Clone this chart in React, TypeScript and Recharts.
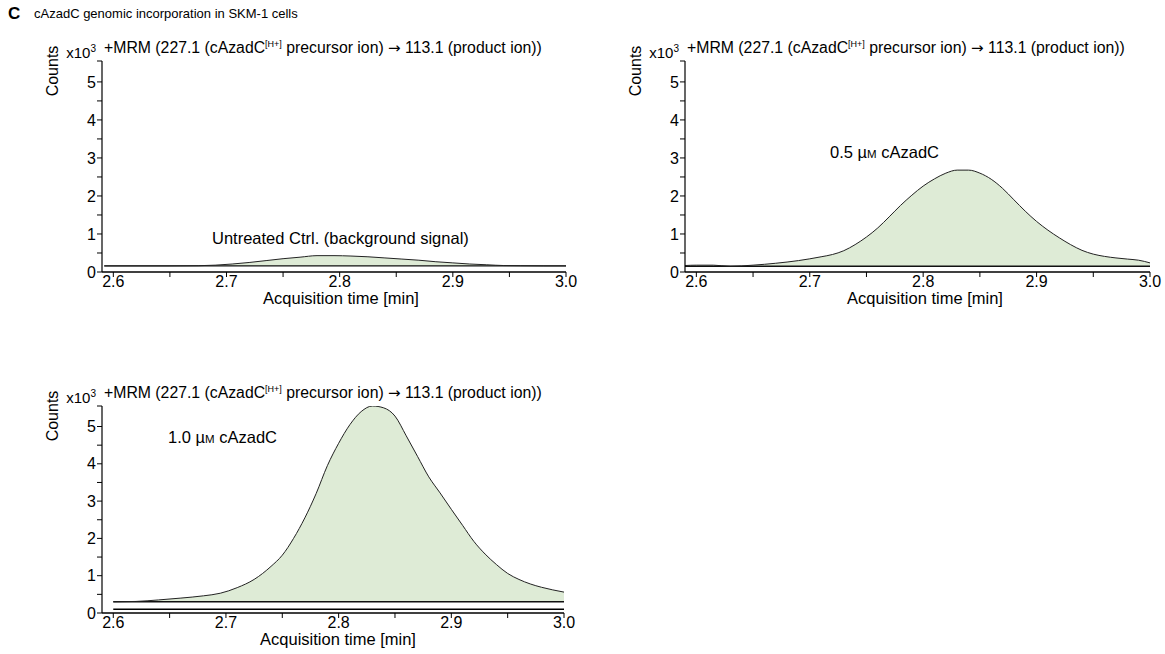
import React from 'react';
import { ComposedChart, Area, Line, XAxis, YAxis } from 'recharts';

// ---- data, counts in x10^3 ----
const ctrlTime = [2.592, 2.62, 2.65, 2.675, 2.69, 2.705, 2.72, 2.735, 2.75, 2.765, 2.78, 2.795, 2.81, 2.825, 2.84, 2.855, 2.87, 2.885, 2.9, 2.915, 2.93, 2.945, 2.96, 2.98, 3.0];
const ctrlCounts = [0.16, 0.16, 0.16, 0.165, 0.18, 0.21, 0.25, 0.3, 0.35, 0.39, 0.43, 0.43, 0.42, 0.4, 0.37, 0.34, 0.31, 0.27, 0.24, 0.21, 0.19, 0.17, 0.165, 0.16, 0.16];
const ctrlBase = 0.16;

const lowTime = [2.59, 2.6, 2.615, 2.63, 2.65, 2.67, 2.69, 2.71, 2.72, 2.73, 2.74, 2.75, 2.76, 2.77, 2.78, 2.79, 2.8, 2.81, 2.82, 2.83, 2.84, 2.85, 2.86, 2.87, 2.88, 2.89, 2.9, 2.91, 2.92, 2.93, 2.94, 2.95, 2.96, 2.97, 2.98, 2.99, 3.0];
const lowCounts = [0.17, 0.18, 0.18, 0.15, 0.18, 0.23, 0.3, 0.4, 0.46, 0.56, 0.72, 0.92, 1.16, 1.45, 1.75, 2.02, 2.26, 2.45, 2.6, 2.68, 2.68, 2.6, 2.44, 2.2, 1.9, 1.6, 1.33, 1.1, 0.9, 0.72, 0.57, 0.47, 0.41, 0.37, 0.34, 0.31, 0.24];
const lowBase = 0.15;

const highTime = [2.6, 2.62, 2.64, 2.66, 2.68, 2.695, 2.71, 2.725, 2.74, 2.75, 2.76, 2.77, 2.78, 2.79, 2.8, 2.81, 2.82, 2.83, 2.84, 2.85, 2.86, 2.87, 2.88, 2.89, 2.9, 2.91, 2.92, 2.93, 2.94, 2.95, 2.96, 2.97, 2.98, 2.99, 3.0];
const highCounts = [0.3, 0.31, 0.35, 0.4, 0.46, 0.53, 0.68, 0.9, 1.25, 1.55, 2.0, 2.55, 3.2, 3.95, 4.55, 5.05, 5.4, 5.55, 5.5, 5.28, 4.75, 4.2, 3.65, 3.22, 2.78, 2.35, 1.92, 1.58, 1.3, 1.06, 0.9, 0.78, 0.69, 0.62, 0.56];
const highBase = 0.3;
const highFloor = 0.1;

const xMajorTicks = [2.6, 2.7, 2.8, 2.9, 3.0];
const xMinorTicks = [2.65, 2.75, 2.85, 2.95];
const yMajorTicks = [0, 1, 2, 3, 4, 5];
const yMinorTicks = [0.5, 1.5, 2.5, 3.5, 4.5];
const yTop = 5.55;
const xDomain = [2.59, 3.0];

const titleLetter = 'C';
const titleText = 'cAzadC genomic incorporation in SKM-1 cells';
const headerPre = '+MRM (227.1 (cAzadC';
const headerSup = '[H+]';
const headerMid = ' precursor ion) ';
const headerArrow = '\u2192';
const headerPost = ' 113.1 (product ion))';
const yLabel = 'Counts';
const xLabel = 'Acquisition time [min]';
const ctrlNote = 'Untreated Ctrl. (background signal)';

const FONT = '"Liberation Sans", Arial, sans-serif';
const FILL = '#deebd6';

function buildRows(times: number[], counts: number[], base: number, floor?: number) {
  return times.map((t, i) => ({
    t,
    v: counts[i],
    base,
    floor,
    band: [base, Math.max(base, counts[i])],
  }));
}

const isWhole = (v: number, step: number) => Math.abs(v / step - Math.round(v / step)) < 1e-6;

const XTick = (props: any) => {
  const { x, y, payload } = props;
  const v = payload.value as number;
  if (!isWhole(v, 0.1)) return <g />;
  return (
    <text x={x} y={y + 4} dy="0.355em" textAnchor="middle" fontSize={16} fontFamily={FONT} fill="#000">
      {v.toFixed(1)}
    </text>
  );
};

const YTick = (props: any) => {
  const { x, y, payload } = props;
  const v = payload.value as number;
  if (Math.abs(v - yTop) < 1e-6) {
    return (
      <text x={x} y={y - 3} textAnchor="end" fontSize={15} fontFamily={FONT} fill="#000">
        x10<tspan fontSize={10} dy={-6}>3</tspan>
      </text>
    );
  }
  if (!isWhole(v, 1)) return <g />;
  return (
    <text x={x} y={y} dy="0.355em" textAnchor="end" fontSize={16} fontFamily={FONT} fill="#000">
      {String(v)}
    </text>
  );
};

const xTicksAll = [...xMajorTicks, ...xMinorTicks].sort((a, b) => a - b);
const yTicksAll = [...yMajorTicks, ...yMinorTicks, yTop].sort((a, b) => a - b);

function Panel(props: { rows: any[]; width: number; height: number; margin: any; hasFloor?: boolean }) {
  const { rows, width, height, margin, hasFloor } = props;
  return (
    <ComposedChart width={width} height={height} data={rows} margin={margin}>
      <XAxis
        type="number"
        dataKey="t"
        domain={xDomain}
        allowDataOverflow
        ticks={xTicksAll}
        interval={0}
        tick={<XTick />}
        tickSize={5}
        tickMargin={0}
        height={30}
        axisLine={{ stroke: '#000', strokeWidth: 1.6 }}
        tickLine={{ stroke: '#000', strokeWidth: 1 }}
      />
      <YAxis
        type="number"
        domain={[0, yTop]}
        allowDataOverflow
        ticks={yTicksAll}
        interval={0}
        tick={<YTick />}
        tickSize={5}
        tickMargin={1}
        width={40}
        axisLine={{ stroke: '#000', strokeWidth: 1.2 }}
        tickLine={{ stroke: '#000', strokeWidth: 1 }}
      />
      <Area
        dataKey="band"
        type="monotone"
        stroke="none"
        fill={FILL}
        fillOpacity={1}
        isAnimationActive={false}
        dot={false}
        activeDot={false}
      />
      {hasFloor && (
        <Line dataKey="floor" type="linear" stroke="#000" strokeWidth={1.4} dot={false} activeDot={false} isAnimationActive={false} />
      )}
      <Line dataKey="base" type="linear" stroke="#111" strokeWidth={1.4} dot={false} activeDot={false} isAnimationActive={false} />
      <Line dataKey="v" type="monotone" stroke="#222" strokeWidth={1} dot={false} activeDot={false} isAnimationActive={false} />
    </ComposedChart>
  );
}

function Header({ x, y }: { x: number; y: number }) {
  return (
    <text x={x} y={y} fontSize={15.8} fontFamily={FONT} fill="#000">
      {headerPre}
      <tspan fontSize={9} dy={-6}>{headerSup}</tspan>
      <tspan dy={6}>{headerMid}</tspan>
      <tspan fontFamily='"DejaVu Sans", sans-serif' fontSize={15}>{headerArrow}</tspan>
      <tspan>{headerPost}</tspan>
    </text>
  );
}

function Counts({ x, y }: { x: number; y: number }) {
  return (
    <text x={x} y={y} transform={`rotate(-90 ${x} ${y})`} textAnchor="middle" dominantBaseline="central" fontSize={16} fontFamily={FONT} fill="#000">
      {yLabel}
    </text>
  );
}

function Conc({ x, y, value }: { x: number; y: number; value: string }) {
  return (
    <text x={x} y={y} fontSize={16.5} fontFamily={FONT} fill="#000">
      {value} µ<tspan fontSize={11.5}>M</tspan> cAzadC
    </text>
  );
}

export default function App() {
  const ctrlRows = buildRows(ctrlTime, ctrlCounts, ctrlBase);
  const lowRows = buildRows(lowTime, lowCounts, lowBase);
  const highRows = buildRows(highTime, highCounts, highBase, highFloor);
  return (
    <div style={{ position: 'absolute', left: 0, top: 0, width: 1165, height: 654, overflow: 'hidden', background: '#fff', fontFamily: FONT }}>
      <div style={{ position: 'absolute', left: 0, top: 0 }}>
        <Panel rows={ctrlRows} width={600} height={320} margin={{ top: 61, right: 34, bottom: 18, left: 62 }} />
      </div>
      <div style={{ position: 'absolute', left: 583, top: 0 }}>
        <Panel rows={lowRows} width={582} height={320} margin={{ top: 61, right: 15, bottom: 18, left: 62 }} />
      </div>
      <div style={{ position: 'absolute', left: 0, top: 345 }}>
        <Panel rows={highRows} width={600} height={305} margin={{ top: 61, right: 36, bottom: 7, left: 62 }} hasFloor />
      </div>
      <svg width={1165} height={654} style={{ position: 'absolute', left: 0, top: 0, pointerEvents: 'none' }}>
        <text x={8} y={19} fontSize={17} fontWeight="bold" fontFamily={FONT} fill="#000">{titleLetter}</text>
        <text x={34} y={18} fontSize={13} fontFamily={FONT} fill="#000">{titleText}</text>

        <Header x={104} y={53} />
        <Header x={687} y={53} />
        <Header x={104} y={398} />

        <Counts x={52} y={71} />
        <Counts x={635} y={71} />
        <Counts x={52} y={416} />

        <text x={341} y={304} textAnchor="middle" fontSize={16.5} fontFamily={FONT} fill="#000">{xLabel}</text>
        <text x={925} y={304} textAnchor="middle" fontSize={16.5} fontFamily={FONT} fill="#000">{xLabel}</text>
        <text x={338} y={645} textAnchor="middle" fontSize={16.5} fontFamily={FONT} fill="#000">{xLabel}</text>

        <text x={212} y={244} fontSize={16.5} fontFamily={FONT} fill="#000">{ctrlNote}</text>
        <Conc x={830} y={158} value="0.5" />
        <Conc x={168} y={443} value="1.0" />
      </svg>
    </div>
  );
}
